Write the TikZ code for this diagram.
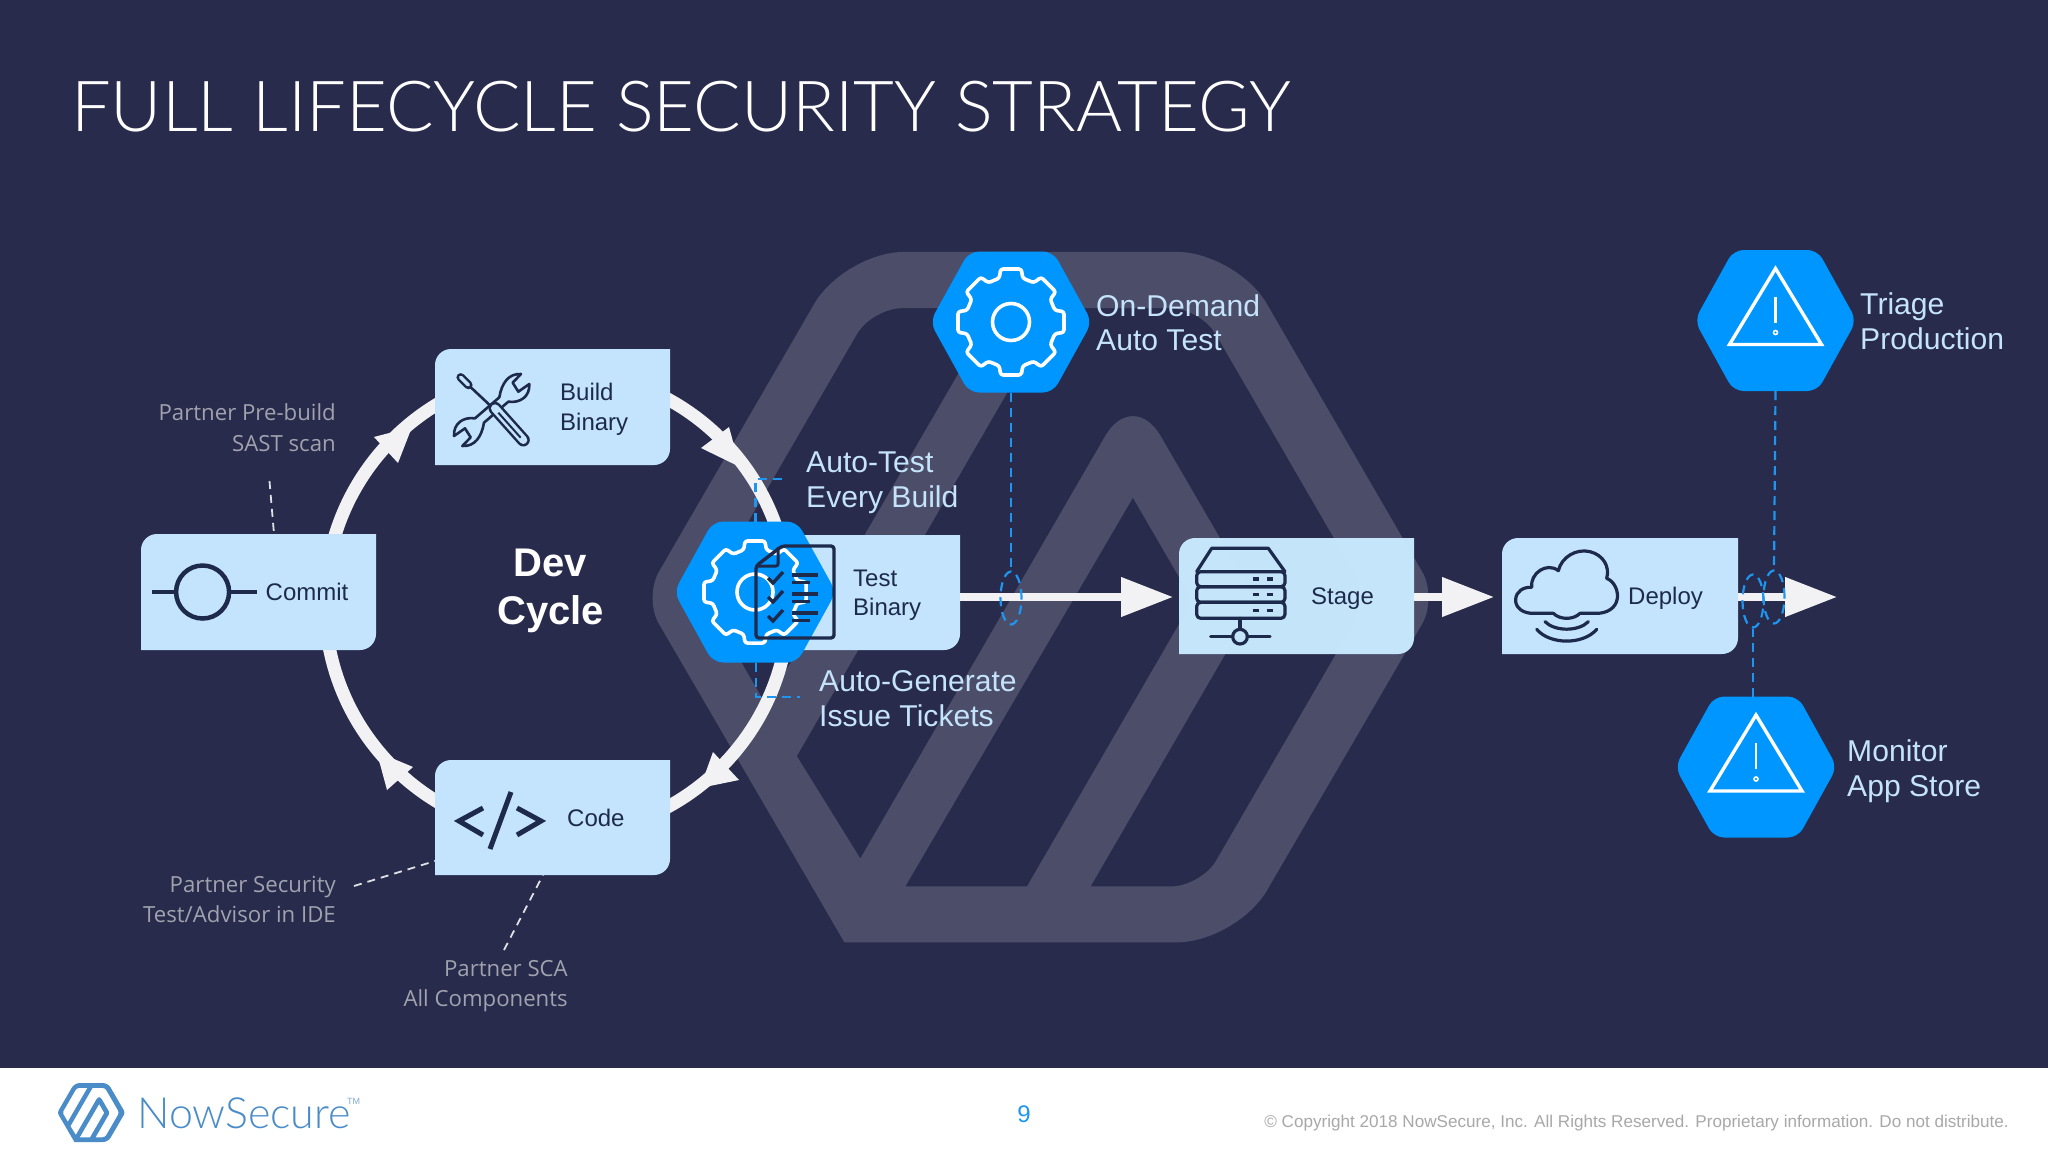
\documentclass[tikz,border=0pt]{standalone}
\usepackage{fontspec}
\setmainfont{Liberation Sans}
\newfontfamily\sidefont{Open Sans}
\newfontfamily\brandfont{Lato Light}
\usetikzlibrary{arrows.meta,shapes.geometric}
\definecolor{bgc}{HTML}{282B4B}
\definecolor{logolight}{HTML}{4C4E69}
\definecolor{boxc}{HTML}{C3E4FC}
\definecolor{stagec}{HTML}{C9EAFF}
\definecolor{hexc}{HTML}{0096FF}
\definecolor{inkc}{HTML}{1E2A4C}
\definecolor{ringc}{HTML}{F2F2F4}
\definecolor{labelc}{HTML}{C5E4FB}
\definecolor{sidec}{HTML}{A0A2AE}
\definecolor{dashc}{HTML}{1E96F0}
\definecolor{brandc}{HTML}{4A8CC8}
\definecolor{copyc}{HTML}{A8A8A8}
\newcommand\fsz[1]{\fontsize{#1}{#1}\selectfont}
\newcommand\twoleft[3]{\vtop{\baselineskip=#3pt\lineskiplimit=-100pt\halign{##\hfil\cr #1\cr #2\cr}}}
\newcommand\tworight[3]{\vtop{\baselineskip=#3pt\lineskiplimit=-100pt\halign{\hfil##\cr #1\cr #2\cr}}}
\tikzset{
  boxlabel/.style={anchor=base west,inner sep=0pt,text=inkc,font=\fsz{24}},
  biglabel/.style={anchor=base west,inner sep=0pt,text=labelc,font=\fsz{30.1}},
  sidelabel/.style={anchor=base east,inner sep=0pt,text=sidec,font=\sidefont\fsz{22.2}},
  ringline/.style={draw=ringc,line width=13pt},
  ringhead/.style={fill=ringc},
  flow/.style={draw=ringc,line width=7.5pt,-{Triangle[length=52pt,width=38pt]}},
  bluedash/.style={draw=dashc,line width=2.2pt,dash pattern=on 9pt off 6pt},
  whitedash/.style={draw=white!85!bgc,line width=1.8pt,dash pattern=on 8pt off 6pt},
  ring oval/.style={ellipse,draw=dashc,line width=2.2pt,dash pattern=on 9pt off 6pt,inner sep=0pt,minimum width=21pt,minimum height=53pt},
  ic/.style={draw=inkc,line width=3.2pt,line join=round,line cap=round},
  gearline/.style={draw=white,line width=3.6pt,line join=round},
  anchorbox/.style={inner sep=0pt,outer sep=0pt},
}
% box with rounded top-left and bottom-right corners
\newcommand\boxshape[7][1]{%
  \fill[#7,fill opacity=#1] (#3+60,#4) [sharp corners] -- (#5,#4) [rounded corners=16pt] -- (#5,#6) [sharp corners] -- (#3,#6) [rounded corners=16pt] -- (#3,#4) [sharp corners] -- cycle;
  \pgfmathsetmacro\bw{#5-#3}\pgfmathsetmacro\bh{#6-#4}
  \node[anchorbox,minimum width=\bw pt,minimum height=\bh pt] (#2) at ({(#3+#5)/2},{(#4+#6)/2}) {};
}
\newcommand\hexshape[3]{%
  \fill[hexc,rounded corners=10pt] (#2-42,#3-70.5) -- (#2+42,#3-70.5) -- (#2+81,#3) -- (#2+42,#3+70.5) -- (#2-42,#3+70.5) -- (#2-81,#3) -- cycle;
  \node[anchorbox,minimum width=156pt,minimum height=141pt] (#1) at (#2,#3) {};
}
\newcommand\gearicon[4]{%
  \draw[gearline,rounded corners=2.5pt] ([shift={(#1,#2)}]79:#3)
    \foreach \a in {90,135,...,405} {
      -- ([shift={(#1,#2)}]\a-11:#3) -- ([shift={(#1,#2)}]\a+11:#3)
      -- ([shift={(#1,#2)}]\a+15:#3*0.84) -- ([shift={(#1,#2)}]\a+30:#3*0.84) } -- cycle;
  \draw[gearline] (#1,#2) circle (#4);
}
\newcommand\warnicon[2]{%
  \draw[gearline,line width=3.4pt,line join=miter] (#1,#2-52) -- (#1+46,#2+24) -- (#1-46,#2+24) -- cycle;
  \draw[white,line width=2.2pt] (#1,#2-24) -- (#1,#2+2);
  \draw[white,line width=1.6pt] (#1,#2+12) circle (2pt);
}
\newcommand\logoshape[2]{%
  \pgfmathsetmacro\rA{60*#1}\pgfmathsetmacro\rB{30*#1}\pgfmathsetmacro\rC{20*#1}\pgfmathsetmacro\rD{55*#1}
  \fill[#2,even odd rule]
    (1000,942.3) [rounded corners=\rA pt] -- (1236.7,942.3) [rounded corners=\rB pt] -- (1437.3,597.8)
    [rounded corners=\rA pt] -- (1236.7,251.9) -- (844.4,251.9) [rounded corners=\rB pt] -- (643.8,597.8)
    [sharp corners] -- (844.4,942.3) -- cycle
    (950,308.2) -- (996.3,308.2) -- (766,704.9) [rounded corners=\rC pt] -- (704.1,597.8)
    [rounded corners=\rB pt] -- (871.9,308.2) [sharp corners] -- cycle
    (1100,308.2) [rounded corners=\rB pt] -- (1200.7,308.2) -- (1368.5,597.8) -- (1201.2,886.4)
    [sharp corners] -- (1090.6,886.4) [rounded corners=\rC pt] -- (1256.3,600.6)
    [rounded corners=\rD pt] -- (1132.9,388.3) [sharp corners] -- (860.3,858.5) -- (796.8,756.1) -- (1056.1,308.2) -- cycle
    (1132.9,497.7) -- (905.3,886.4) -- (1027,886.4) -- (1192.7,600.6) -- cycle;
}
\begin{document}
\begin{tikzpicture}[x=1pt,y=-1pt]
\useasboundingbox (0,0) rectangle (2048,1152);
\fill[bgc] (0,0) rectangle (2048,1068);
\fill[white] (0,1068) rectangle (2048,1152);

% title
\node[anchor=base west,inner sep=0pt,text=white,font=\brandfont\fsz{70.4}] (title) at (71,131) {FULL LIFECYCLE SECURITY STRATEGY};

% background logo
\logoshape{1}{logolight}

% development ring
\draw[ringline] (557,603) circle (232);

% boxes
\boxshape{commit}{141}{534}{376}{650}{boxc}
\boxshape{build}{435}{349}{670}{465}{boxc}
\boxshape{code}{435}{760}{670}{875}{boxc}
\boxshape{testb}{725}{535}{960}{650}{boxc}
\boxshape[0.97]{stage}{1179}{538}{1414}{654}{stagec}
\boxshape{deploy}{1502}{538}{1738}{654}{boxc}

% ring arrowheads
\fill[ringhead] (412,427) -- (374,437) -- (398,463) -- cycle;
\fill[ringhead] (740,467) -- (729,427) -- (701,448) -- cycle;
\fill[ringhead] (700,788) -- (713,752) -- (739,780) -- cycle;
\fill[ringhead] (376.7,751.7) -- (413,767) -- (387,790) -- cycle;

% flow arrows
\coordinate (outflow) at (1837,597);
\draw[flow,shorten >=6pt] (testb.east |- 0,597) -- (stage.west |- 0,597);
\draw[flow,shorten >=8pt] (stage.east |- 0,597) -- (deploy.west |- 0,597);
\draw[flow] (deploy.east |- 0,597) -- (outflow);

% hexagons
\hexshape{ondemand}{1011}{322}
\hexshape{triage}{1775.5}{320.5}
\hexshape{monitor}{1756}{767}
\hexshape{testhex}{755}{592}
\gearicon{1011}{322}{54}{18.5}
\gearicon{755}{592}{52}{18}
\warnicon{1775.5}{320.5}
\warnicon{1756}{767}

% commit icon
\draw[inkc,line width=4.5pt] (202.6,592) circle (26.5);
\draw[inkc,line width=4.5pt] (152,592) -- (176,592) (229,592) -- (257,592);

% build icon
\begin{scope}[shift={(440,360)},scale=1/3]
\filldraw[fill=boxc,draw=inkc,line width=2.6pt,line join=round]
  (178,112) .. controls (185,70) and (205,40) .. (243,42) -- (218,68) -- (235,95) -- (268,72)
  .. controls (270,110) and (240,130) .. (205,125) -- (132,188)
  .. controls (125,230) and (105,260) .. (67,258) -- (92,232) -- (75,205) -- (42,228)
  .. controls (40,190) and (70,170) .. (105,175) -- cycle;
\draw[inkc,line width=2.6pt] (85,75) -- (165,150);
\draw[inkc,line width=8.5pt,line cap=round] (62,52) -- (85,75);
\draw[boxc,line width=3.5pt,line cap=round] (62,52) -- (85,75);
\draw[inkc,line width=13pt,line cap=round] (165,145) -- (250,240);
\draw[boxc,line width=8pt,line cap=round] (165,145) -- (250,240);
\draw[inkc,line width=2pt] (175,158) -- (242,233);
\end{scope}

% code icon
\draw[inkc,line width=5pt] (483,808) -- (459,821) -- (483,835);
\draw[inkc,line width=5pt] (517,808) -- (541,821) -- (517,835);
\draw[inkc,line width=5pt] (511,792) -- (490,849);

% stage icon
\begin{scope}[shift={(1170,530)},scale=1/3]
\draw[ic] (80,125) -- (125,55) -- (295,55) -- (345,125);
\foreach \ya/\yb in {125/170,170/217,217/265} {
  \draw[ic,rounded corners=4pt] (80,\ya) -- (345,\ya) -- (345,\yb) -- (80,\yb) -- cycle;
  \draw[inkc,line width=3.6pt] (248,{(\ya+\yb)/2}) -- (266,{(\ya+\yb)/2}) (292,{(\ya+\yb)/2}) -- (310,{(\ya+\yb)/2});
}
\draw[ic] (210,265) -- (210,298) (122,320) -- (188,320) (232,320) -- (300,320);
\draw[ic] (210,320) circle (22);
\end{scope}

% deploy icon
\begin{scope}[shift={(1490,530)},scale=1/3]
\draw[ic] (135,250) .. controls (95,252) and (75,230) .. (77,208)
  .. controls (78,185) and (100,170) .. (125,172)
  .. controls (120,130) and (170,95) .. (205,122)
  .. controls (215,80) and (260,55) .. (300,65)
  .. controls (340,75) and (360,110) .. (350,145)
  .. controls (375,155) and (385,185) .. (382,205)
  .. controls (378,235) and (350,250) .. (320,250)
  -- (270,250) .. controls (250,270) and (210,270) .. (190,250) -- cycle;
\draw[ic] (165,275) .. controls (195,305) and (265,305) .. (295,275);
\draw[ic] (140,298) .. controls (180,345) and (280,345) .. (320,298);
\end{scope}

% test document icon
\draw[ic,line width=3.4pt,rounded corners=3pt] (782,546) -- (834,546) -- (834,638) -- (756,638) -- (756,566) -- cycle;
\draw[ic,line width=3pt,rounded corners=2pt] (778,548) -- (778,566) -- (758,566);
\foreach \yy in {575,594,613} {
  \draw[inkc,line width=3.4pt] (792,\yy) -- (818,\yy) (792,\yy+7.5) -- (810,\yy+7.5);
  \draw[inkc,line width=3.4pt] (768,\yy+3) -- (773,\yy+8) -- (783,\yy-3);
}

% box texts
\node[boxlabel] (commitlabel) at (265.5,600) {Commit};
\node[boxlabel] (buildlabel) at (560,400) {\twoleft{Build}{Binary}{30}};
\node[boxlabel] (testlabel) at (853,586) {\twoleft{Test}{Binary}{29}};
\node[boxlabel] (codelabel) at (567,826) {Code};
\node[boxlabel] (stagelabel) at (1311,604) {Stage};
\node[boxlabel] (deploylabel) at (1628,604) {Deploy};

% large labels
\node[biglabel] (lab1) at (1096,316) {\twoleft{On-Demand}{Auto Test}{34.5}};
\node[biglabel] (lab2) at (1860,314.5) {\twoleft{Triage}{Production}{35}};
\node[biglabel] (lab3) at (1847,761) {\twoleft{Monitor}{App Store}{35}};
\node[biglabel] (lab4) at (806,472) {\twoleft{Auto-Test}{Every Build}{35.5}};
\node[biglabel] (lab5) at (819,691) {\twoleft{Auto-Generate}{Issue Tickets}{35}};

% dev cycle
\node[anchor=base,inner sep=0pt,text=white,font=\bfseries\fsz{40},align=center] (devlabel) at (550.5,576) {\vtop{\baselineskip=48pt\lineskiplimit=-100pt\halign{\hfil#\hfil\cr Dev\cr Cycle\cr}}};

% side labels
\node[sidelabel] (pre) at (336,420) {\tworight{Partner Pre-build}{SAST scan}{31}};
\node[sidelabel] (sec) at (336,892) {\tworight{Partner Security}{Test/Advisor in IDE}{30.5}};
\node[sidelabel] (sca) at (568,976) {\tworight{Partner SCA}{All Components}{30.5}};

% partner leaders
\coordinate (preend) at (269.5,481);
\coordinate (commitend) at (274,534);
\coordinate (secend) at (354,886);
\coordinate (codeleft) at (435,861);
\coordinate (codebot) at (543,875);
\coordinate (scaend) at (504,950);
\draw[whitedash] (preend) -- (commitend);
\draw[whitedash] (secend) -- (codeleft);
\draw[whitedash] (scaend) -- (codebot);

% blue connectors
\node[ring oval] (oval1) at (1011,598) {};
\node[ring oval] (oval2) at (1774,597) {};
\node[ring oval] (oval3) at (1753,601) {};
\draw[bluedash] (ondemand.south) -- (oval1.north);
\draw[bluedash] (triage.south) -- (oval2.north);
\draw[bluedash] (monitor.north -| oval3.south) -- (oval3.south);
\coordinate (b1) at (755.5,479);
\coordinate (b2) at (787,479);
\coordinate (b3) at (756,697);
\coordinate (b4) at (800,697);
\draw[bluedash] (testhex.north -| b1) -- (b1) -- (b2);
\draw[bluedash] (testhex.south -| b3) -- (b3) -- (b4);

% footer
\begin{scope}[shift={(2.3,1061.5)},scale=0.0855]
\logoshape{0.0855}{brandc}
\end{scope}
\node[anchor=base west,inner sep=0pt,text=brandc,font=\brandfont\fsz{43}] (brand) at (137,1128) {NowSecure};
\node[anchor=base west,inner sep=0pt,text=brandc!70,font=\fsz{9}] (tm) at (347,1104) {TM};
\node[anchor=base,inner sep=0pt,text=dashc,font=\fsz{24}] (pagenum) at (1024,1122) {9};
\node[anchor=base east,inner sep=0pt,text=copyc,font=\fsz{17.1}] (copy) at (2009,1127) {© Copyright 2018 NowSecure, Inc. All Rights Reserved. Proprietary information. Do not distribute.};
\end{tikzpicture}
\end{document}
